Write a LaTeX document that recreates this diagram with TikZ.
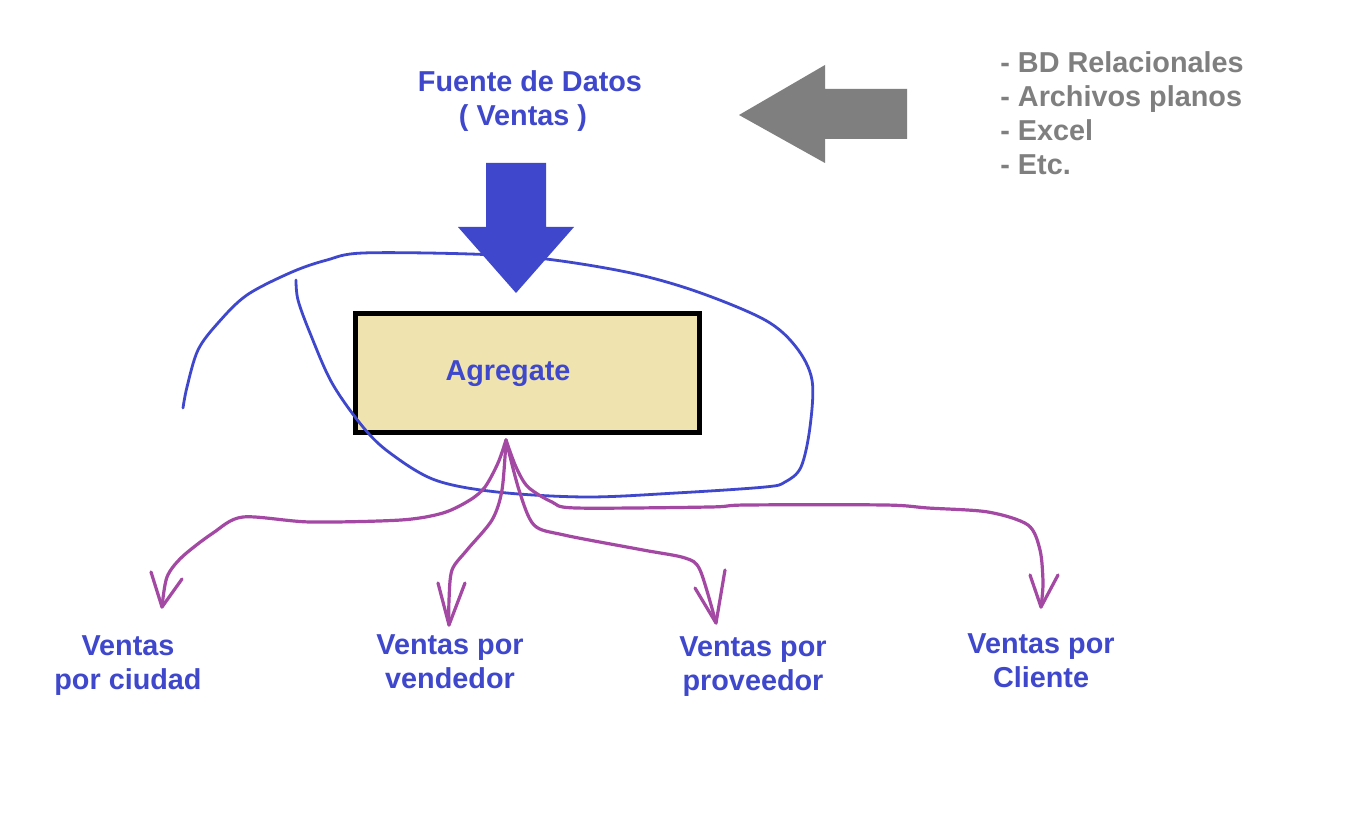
\documentclass[tikz,border=0pt]{standalone}
\usepackage{fontspec}
\setmainfont{Liberation Sans}
\definecolor{pblue}{HTML}{3F48CC}
\definecolor{ppurple}{HTML}{A349A4}
\definecolor{pgray}{HTML}{7F7F7F}
\definecolor{ptan}{HTML}{EFE4B0}
\tikzset{
  lbl/.style={font=\bfseries\fontsize{14.4}{17}\selectfont, inner sep=0pt, align=center, anchor=base},
  bluetxt/.style={lbl, text=pblue},
  graytxt/.style={lbl, text=pgray, align=left, anchor=base west},
  aggbox/.style={draw=black, line width=2.5pt, fill=ptan, minimum width=172pt, minimum height=59.5pt, inner sep=0pt},
  loopline/.style={draw=pblue, line width=1.4pt, line cap=round, line join=round},
  purp/.style={draw=ppurple, line width=1.6pt, line cap=round, line join=round},
}
\begin{document}
\begin{tikzpicture}[x=0.5pt, y=-0.5pt]
\useasboundingbox[fill=white] (0,0) rectangle (1348,823);

% source text and list (anchor = baseline of last line)
\node[bluetxt] (src) at (530,126) {Fuente de Datos\\( Ventas )\hspace*{7pt}};
\node[graytxt] (list) at (1000,175) {- BD Relacionales\\- Archivos planos\\- Excel\\- Etc.};

% gray arrow
\fill[pgray] (907,89) -- (907,139) -- (825,139) -- (825,163) -- (739,115) -- (825,65) -- (825,89) -- cycle;

% aggregate box
\node[aggbox] (agg) at (527.5,373) {};
\node[bluetxt] (aggtxt) at (508,380) {Agregate};

% hand drawn loop
\draw[loopline] plot[smooth, tension=0.55] coordinates {
  (183,408) (187,387) (198,350) (218,323) (247,295) (292,272) (327,260) (363,253)
  (470,254) (546,259) (631,273) (698,292) (765,320) (796,347) (812,380) (810,427)
  (801,467) (785,482) (765,487) (676,493) (586,497) (497,492) (435,480) (390,453)
  (363,427) (332,383) (310,333) (298,300) (296,280)};

% blue arrow
\fill[pblue] (486,163) -- (546,163) -- (546,227) -- (574,227) -- (516,293) -- (458,227) -- (486,227) -- cycle;

% outputs
\coordinate (o) at (506,440);
\coordinate (t1) at (162,607);
\coordinate (t2) at (449,625);
\coordinate (t3) at (716,623);
\coordinate (t4) at (1041,607);

\draw[purp] plot[smooth, tension=0.5] coordinates {(o) (498,463) (485,487) (470,500) (443,513) (401,520) (310,522) (243,517) (213,533) (182,557) (167,577) (t1)};
\draw[purp] (151,572) -- (t1) -- (182,579);

\draw[purp] plot[smooth, tension=0.5] coordinates {(o) (502,490) (492,520) (467,550) (452,570) (449,600) (t2)};
\draw[purp] (438,583) -- (t2) -- (465,583);

\draw[purp] plot[smooth, tension=0.5] coordinates {(o) (519,490) (534,525) (564,535) (643,550) (685,558) (700,570) (t3)};
\draw[purp] (695,588) -- (t3) -- (725,570);

\draw[purp] plot[smooth, tension=0.5] coordinates {(o) (516,467) (528,487) (552,502) (576,508) (710,507) (746,505) (885,505) (928,508) (988,512) (1028,525) (1040,550) (1043,583) (t4)};
\draw[purp] (1030,575) -- (t4) -- (1058,575);

% labels (anchor = baseline of last line)
\node[bluetxt] (l1) at (128,689) {Ventas\\por ciudad};
\node[bluetxt] (l2) at (450,688) {Ventas por\\vendedor};
\node[bluetxt] (l3) at (753,690) {Ventas por\\proveedor};
\node[bluetxt] (l4) at (1041,687) {Ventas por\\Cliente};
\end{tikzpicture}
\end{document}
